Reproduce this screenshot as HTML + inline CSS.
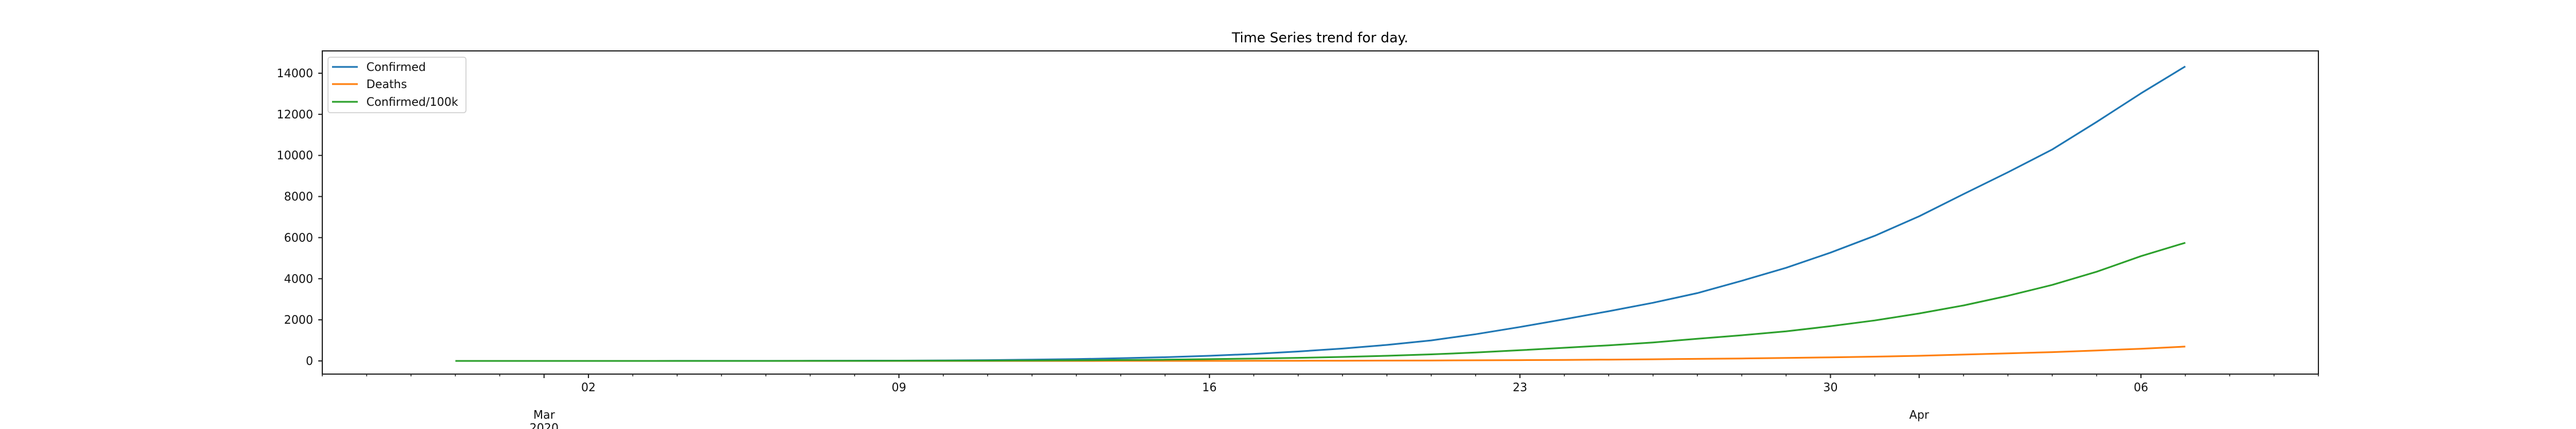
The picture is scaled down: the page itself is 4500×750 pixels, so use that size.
<!DOCTYPE html>
<html><head><meta charset="utf-8">
<style>
html,body{margin:0;padding:0;background:#fff;}
svg{display:block;font-family:"DejaVu Sans","Liberation Sans",sans-serif;}
</style></head>
<body>
<svg id="chart" width="4500" height="750" viewBox="0 0 4500 750" xmlns="http://www.w3.org/2000/svg">
<text x="2306" y="74" font-size="24" text-anchor="middle" fill="#000">Time Series trend for day.</text>
<g id="plot"></g>
</svg>
<script>
// data: daily from 2020-02-28 to 2020-04-07
const startDate = "2020-02-28";
const confirmed = [0,0,1,1,1,2,3,4,5,10,15,25,40,60,90,130,180,250,340,460,600,780,1000,1300,1650,2030,2420,2830,3300,3900,4530,5270,6090,7040,8120,9180,10290,11630,13020,14330];
const deaths = [0,0,0,0,0,0,0,0,0,0,0,0,0,0,1,2,3,4,6,9,12,16,22,30,40,50,65,80,100,120,145,175,210,250,310,370,430,510,590,700];
const confirmed100k = [0,0,0,0,0,0,1,1,2,4,6,10,15,22,32,45,62,85,115,150,195,250,320,410,520,640,760,900,1080,1250,1440,1690,1970,2310,2700,3170,3700,4340,5100,5750];
const yTicks = [0,2000,4000,6000,8000,10000,12000,14000];
const xMajorLabels = [["2020-03-02","02"],["2020-03-09","09"],["2020-03-16","16"],["2020-03-23","23"],["2020-03-30","30"],["2020-04-06","06"]];
const xMonthLabels = [["2020-03-01","Mar","2020"],["2020-04-01","Apr",""]];

const NS="http://www.w3.org/2000/svg";
const L=563,R=4050,T=89,B=654;
const day0=Date.UTC(2020,1,25), dayN=Date.UTC(2020,3,10);
const DAY=86400000;
function dnum(s){const p=s.split("-");return Date.UTC(+p[0],+p[1]-1,+p[2]);}
function xs(t){return L+(t-day0)/(dayN-day0)*(R-L);}
function ys(v){return 631-(v/14000)*(631-128);}
const g=document.getElementById("plot");
function mk(tag,attrs){const e=document.createElementNS(NS,tag);for(const k in attrs)e.setAttribute(k,attrs[k]);g.appendChild(e);return e;}

const series=[[confirmed,"#1f77b4","line-confirmed"],[deaths,"#ff7f0e","line-deaths"],[confirmed100k,"#2ca02c","line-confirmed-per-100k"]];
const s0=dnum(startDate);
series.forEach(([arr,col,name])=>{
  const pts=arr.map((v,i)=>xs(s0+i*DAY).toFixed(1)+","+ys(v).toFixed(1)).join(" ");
  const p=mk("polyline",{points:pts,fill:"none",stroke:col,"stroke-width":3,"stroke-linejoin":"round"});
  
  
});

const fr=mk("rect",{x:L,y:T,width:R-L,height:B-T,fill:"none",stroke:"#222","stroke-width":2});



yTicks.forEach(v=>{
  const y=ys(v);
  mk("line",{x1:L-7,x2:L,y1:y,y2:y,stroke:"#222","stroke-width":2});
  const t=mk("text",{x:L-16,y:y+7,"font-size":20,"text-anchor":"end",fill:"#111"});
  t.textContent=v;
  
  
});

for(let t=day0;t<=dayN;t+=DAY){
  const x=xs(t);
  mk("line",{x1:x,x2:x,y1:B,y2:B+4,stroke:"#222","stroke-width":1.5});
}
xMajorLabels.forEach(([d,lab])=>{
  const x=xs(dnum(d));
  mk("line",{x1:x,x2:x,y1:B,y2:B+7,stroke:"#222","stroke-width":2});
  const t=mk("text",{x:x,y:684,"font-size":20,"text-anchor":"middle",fill:"#111"});
  t.textContent=lab;
  
  
});
xMonthLabels.forEach(([d,m,yr])=>{
  const x=xs(dnum(d));
  mk("line",{x1:x,x2:x,y1:B,y2:B+7,stroke:"#222","stroke-width":2});
  const t=mk("text",{x:x,y:732,"font-size":20,"text-anchor":"middle",fill:"#111"});
  t.textContent=m;
  
  
  if(yr){
    const t2=mk("text",{x:x,y:755,"font-size":20,"text-anchor":"middle",fill:"#111"});
    t2.textContent=yr;
    
    
  }
});

const lg=mk("rect",{x:573,y:100,width:241,height:97,rx:4,fill:"#fff","fill-opacity":0.85,stroke:"#ccc","stroke-width":1.5});


[["Confirmed","#1f77b4",117],["Deaths","#ff7f0e",147],["Confirmed/100k","#2ca02c",178]].forEach(([lab,col,y])=>{
  mk("line",{x1:580,x2:625,y1:y,y2:y,stroke:col,"stroke-width":3});
  const t=mk("text",{x:640,y:y+7,"font-size":20,fill:"#111"});
  t.textContent=lab;
  
  
});
</script>
</body></html>
